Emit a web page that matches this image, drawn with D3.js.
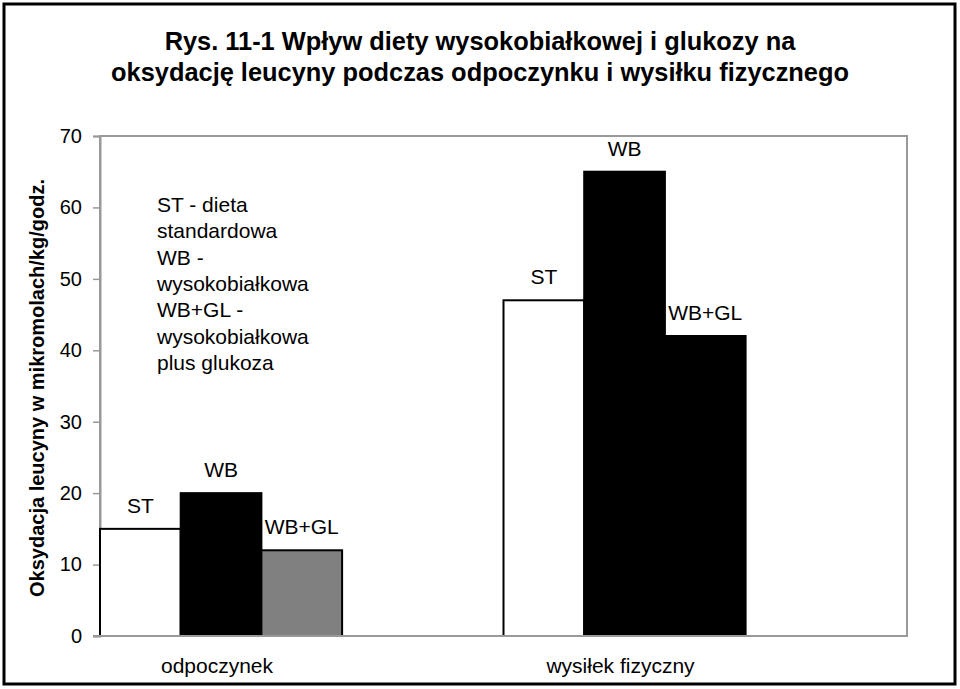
<!DOCTYPE html>
<html><head><meta charset="utf-8">
<script src="https://cdn.jsdelivr.net/npm/d3@7"></script>
<style>body{margin:0;background:#fff}text{font-family:"Liberation Sans",Arial,sans-serif}</style>
</head><body><svg id="c" width="960" height="689"></svg>
<script>
const categories = ["odpoczynek", "wysiłek fizyczny"];
const series = ["ST", "WB", "WB+GL"];
const stValues = [15, 47];
const wbValues = [20, 65];
const wbglValues = [12, 42];
const yTicks = [0, 10, 20, 30, 40, 50, 60, 70];
const titleLines = ["Rys. 11-1 Wpływ diety wysokobiałkowej i glukozy na", "oksydację leucyny podczas odpoczynku i wysiłku fizycznego"];
const yLabel = "Oksydacja leucyny w mikromolach/kg/godz.";
const legendLines = ["ST - dieta", "standardowa", "WB -", "wysokobiałkowa", "WB+GL -", "wysokobiałkowa", "plus glukoza"];
const fills = [["#ffffff", "#000000", "#808080"], ["#ffffff", "#000000", "#000000"]];

const svg = d3.select("#c");
const L = 100, R = 907, T = 136, B = 636;

svg.append("rect").attr("x", 4).attr("y", 4).attr("width", 951).attr("height", 680)
  .attr("fill", "#fff").attr("stroke", "#000").attr("stroke-width", 3);

const y = d3.scaleLinear().domain([0, 70]).range([B, T]);
const x0 = d3.scaleBand().domain(categories).range([L, R]).padding(0);
const x1 = d3.scaleBand().domain(series).range([0, x0.bandwidth() * 0.6]).padding(0);

svg.append("rect").attr("x", L).attr("y", T).attr("width", R - L).attr("height", B - T)
  .attr("fill", "none").attr("stroke", "#999").attr("stroke-width", 2);

const yAxis = svg.append("g").attr("transform", `translate(${L},0)`)
  .call(d3.axisLeft(y).tickValues(yTicks).tickSize(7).tickPadding(11).tickFormat(d3.format("d")));
yAxis.select(".domain").attr("stroke", "#999").attr("stroke-width", 2);
yAxis.selectAll(".tick line").attr("stroke", "#999").attr("stroke-width", 1.5);
yAxis.selectAll(".tick text").attr("font-size", 20).attr("fill", "#000")
  .style("font-family", "'Liberation Sans',Arial,sans-serif");

const data = categories.map((c, i) => ({ cat: c, i, vals: [stValues[i], wbValues[i], wbglValues[i]] }));

const g = svg.selectAll(".grp").data(data).enter().append("g")
  .attr("transform", d => `translate(${x0(d.cat)},0)`);

g.selectAll("rect").data(d => d.vals.map((v, j) => ({ v, s: series[j], fill: fills[d.i][j] })))
  .enter().append("rect")
  .attr("x", d => x1(d.s)).attr("width", x1.bandwidth())
  .attr("y", d => y(d.v)).attr("height", d => y(0) - y(d.v))
  .attr("fill", d => d.fill).attr("stroke", "#000").attr("stroke-width", 2);

g.selectAll("text.lbl").data(d => d.vals.map((v, j) => ({ v, s: series[j] })))
  .enter().append("text").attr("class", "lbl")
  .attr("x", d => x1(d.s) + x1.bandwidth() / 2).attr("y", d => y(d.v) - 16)
  .attr("text-anchor", "middle").attr("font-size", 21).text(d => d.s);

g.append("text").attr("x", x0.bandwidth() * 0.29).attr("y", 673)
  .attr("text-anchor", "middle").attr("font-size", 21).text(d => d.cat);

svg.append("line").attr("x1", L - 7).attr("x2", R).attr("y1", B).attr("y2", B)
  .attr("stroke", "#999").attr("stroke-width", 2);
g.selectAll("rect").raise();

svg.selectAll(".title").data(titleLines).enter().append("text")
  .attr("x", 480).attr("y", (d, i) => 50 + i * 31).attr("text-anchor", "middle")
  .attr("font-size", 25.4).attr("font-weight", "bold").text(d => d);

svg.append("text").attr("transform", "translate(44,388) rotate(-90)")
  .attr("text-anchor", "middle").attr("font-size", 20).attr("font-weight", "bold").text(yLabel);

svg.selectAll(".leg").data(legendLines).enter().append("text")
  .attr("x", 157).attr("y", (d, i) => 212 + i * 26.3).attr("font-size", 21).text(d => d);
</script></body></html>
